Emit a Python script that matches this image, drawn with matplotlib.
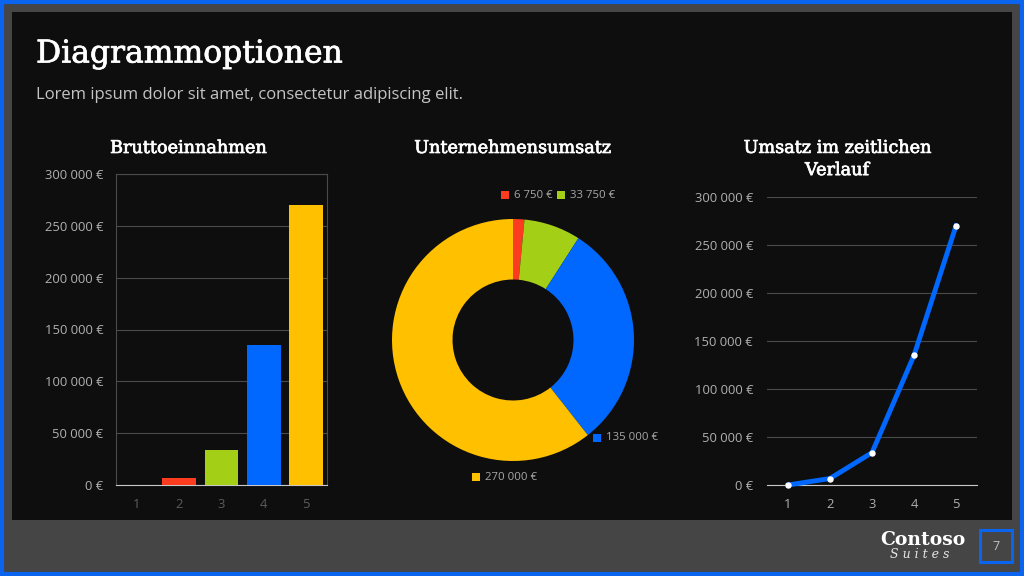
# -*- coding: utf-8 -*-
import matplotlib
matplotlib.use("Agg")
import matplotlib.pyplot as plt
import matplotlib.patheffects as pe
from matplotlib.patches import Rectangle

plt.rcParams['font.family'] = ['Open Sans', 'DejaVu Sans']

# data
categories = [1, 2, 3, 4, 5]
umsatz = [0, 6750, 33750, 135000, 270000]
y_ticks = [0, 50000, 100000, 150000, 200000, 250000, 300000]
bar_colors = ['#0068ff', '#fb3c1f', '#a4cf17', '#0068ff', '#ffc000']
pie_labels = ['6 750 €', '33 750 €', '135 000 €', '270 000 €']
pie_colors = ['#fb3c1f', '#a4cf17', '#0068ff', '#ffc000']

W, H = 1024, 576
BLACK = '#0e0e0e'
GRAY = '#454545'
BLUE = '#0a64ee'
SLAB = 'DejaVu Serif'
# thickens the serif a bit, the original face is heavier
heavy = [pe.withStroke(linewidth=0.5, foreground='white')]


def euro(v):
    return f'{v:,.0f} €'.replace(',', ' ')


def px_axes(x0, y0, x1, y1):
    # pixel box, y counted from the top
    return fig.add_axes([x0 / W, 1 - y1 / H, (x1 - x0) / W, (y1 - y0) / H])


fig = plt.figure(figsize=(W / 100, H / 100), dpi=100, facecolor=GRAY)

# slide background
bg = fig.add_axes([0, 0, 1, 1])
bg.set_xlim(0, W)
bg.set_ylim(H, 0)
bg.axis('off')
bg.add_patch(Rectangle((2, 2), W - 4, H - 4, fc='none', ec=BLUE, lw=3))
bg.add_patch(Rectangle((12, 12), 1000, 508, fc=BLACK, ec='none'))
bg.add_patch(Rectangle((980, 530), 32, 32, fc='none', ec=BLUE, lw=2.2))

bg.text(36, 54, 'Diagrammoptionen', color='white', fontsize=22.6, family=SLAB, va='center', path_effects=heavy)
bg.text(36, 95, 'Lorem ipsum dolor sit amet, consectetur adipiscing elit.',
        color='#c4c4c4', fontsize=11.95, va='center')
bg.text(188, 148, 'Bruttoeinnahmen', color='white', fontsize=12.7, family=SLAB, ha='center', va='center', path_effects=heavy)
bg.text(512, 148, 'Unternehmensumsatz', color='white', fontsize=12.7, family=SLAB, ha='center', va='center', path_effects=heavy)
bg.text(837, 159, 'Umsatz im zeitlichen\nVerlauf', color='white', fontsize=12.7, family=SLAB,
        ha='center', va='center', linespacing=1.3, path_effects=heavy)
bg.text(923, 540, 'Contoso', color='white', fontsize=13.5, family=SLAB, weight='bold', ha='center', va='center')
bg.text(920, 555, 'S u i t e s', color='#e6e6e6', fontsize=9, family=SLAB, style='italic', ha='center', va='center')
bg.text(996, 547, '7', color='#c4c4c4', fontsize=9, ha='center', va='center')

# bar chart
ax1 = px_axes(116, 174, 327, 485)
ax1.set_facecolor('none')
ax1.bar(categories, umsatz, width=0.8, color=bar_colors, zorder=3)
ax1.set_xlim(0.5, 5.5)
ax1.set_ylim(0, 300000)
ax1.set_xticks(categories)
ax1.set_yticks(y_ticks)
ax1.set_yticklabels([euro(v) for v in y_ticks])
ax1.grid(axis='y', color='#4a4a4a', lw=0.8, zorder=0)
ax1.tick_params(axis='y', length=0, colors='#b0b0b0', labelsize=9.4, pad=9)
ax1.tick_params(axis='x', length=0, colors='#5c5c5c', labelsize=9.4, pad=9)
for side in ['top', 'left', 'right']:
    ax1.spines[side].set_color('#4a4a4a')
ax1.spines['bottom'].set_color('#c8c8c8')

# doughnut
ax2 = px_axes(392, 219, 634, 461)
ax2.pie(umsatz, colors=bar_colors, startangle=90, counterclock=False, radius=1,
        wedgeprops={'width': 0.5, 'linewidth': 0})
ax2.set_xlim(-1, 1)
ax2.set_ylim(-1, 1)

# legend-like labels of the doughnut
label_pos = [(505, 195), (561, 195), (597, 438), (476, 477)]
for name, col, (lx, ly) in zip(pie_labels, pie_colors, label_pos):
    bg.add_patch(Rectangle((lx - 4, ly - 4), 8, 8, fc=col, ec='none'))
    bg.text(lx + 9, ly, name, color='#a8a8a8', fontsize=8.2, va='center')

# line chart
ax3 = px_axes(767, 197, 977, 485)
ax3.set_facecolor('none')
ax3.plot(categories, umsatz, color='#0068ff', lw=3.5, zorder=3, clip_on=False,
         marker='o', markersize=3.6, markerfacecolor='white', markeredgecolor='white')
ax3.set_xlim(0.5, 5.5)
ax3.set_ylim(0, 300000)
ax3.set_xticks(categories)
ax3.set_yticks(y_ticks)
ax3.set_yticklabels([euro(v) for v in y_ticks])
ax3.grid(axis='y', color='#4a4a4a', lw=0.8, zorder=0)
ax3.tick_params(axis='y', length=0, colors='#b0b0b0', labelsize=9.4, pad=10)
ax3.tick_params(axis='x', length=0, colors='#b0b0b0', labelsize=9.4, pad=9)
for side in ['top', 'left', 'right']:
    ax3.spines[side].set_visible(False)
ax3.spines['bottom'].set_color('#c8c8c8')

fig.savefig('out.png', dpi=100, facecolor=fig.get_facecolor())
